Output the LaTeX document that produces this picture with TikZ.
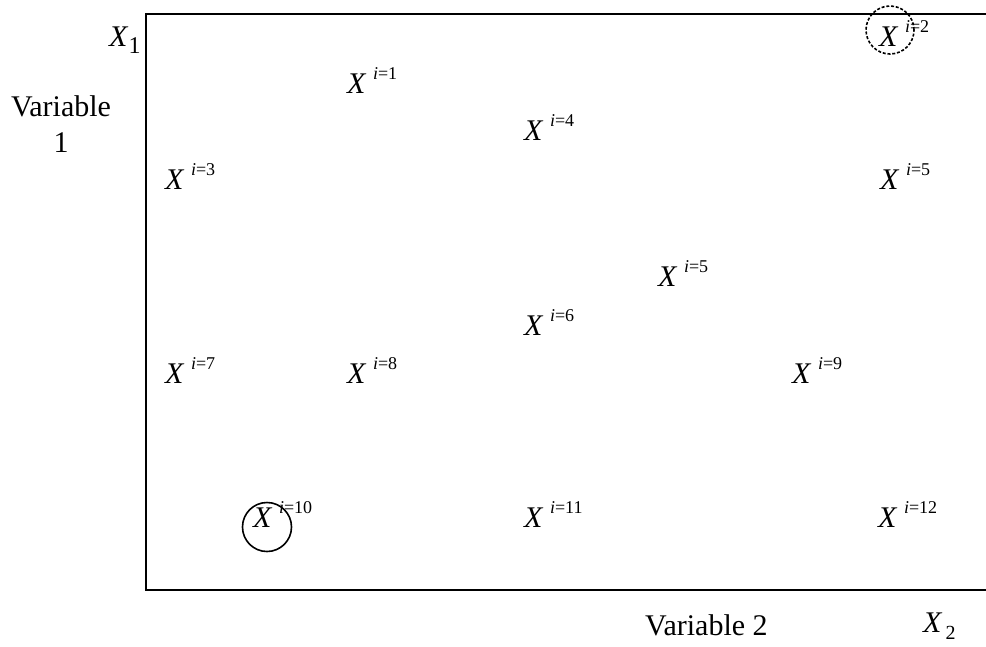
\documentclass[tikz,border=0pt]{standalone}
\usepackage{fontspec}
\setmainfont{Liberation Serif}
\newcommand{\xobs}[1]{{\fontsize{30}{30}\selectfont\itshape X}\hspace{7.5pt}\raisebox{14pt}{\fontsize{18}{18}\selectfont\textit{i}=#1}}
\tikzset{
  obs/.style={inner sep=0pt, anchor=base west},
  lab/.style={inner sep=0pt, anchor=base, font=\fontsize{30}{30}\selectfont},
  axis/.style={line width=2pt},
  mark circ/.style={draw, circle, minimum size=48pt, inner sep=0pt, line width=1.6pt}
}
\begin{document}
\begin{tikzpicture}[x=1pt,y=-1pt]
\useasboundingbox (0,0) rectangle (986,646);
% axes
\coordinate (tr) at (986,14);
\coordinate (tl) at (146,14);
\coordinate (bl) at (146,590);
\coordinate (br) at (986,590);
\draw[axis] (tr) -- (tl) -- (bl) -- (br);
% axis labels
\node[obs] (xone) at (109,46) {{\fontsize{30}{30}\selectfont\itshape X}\hspace{1pt}\raisebox{-7pt}{\fontsize{24}{24}\selectfont 1}};
\node[obs] (xtwo) at (923,632) {{\fontsize{30}{30}\selectfont\itshape X}\hspace{4pt}\raisebox{-7pt}{\fontsize{20}{20}\selectfont 2}};
\node[lab] (v1a) at (61,116) {Variable};
\node[lab] (v1b) at (61,152) {1};
\node[lab, anchor=base west] (v2) at (645,635) {Variable 2};
% observations
\node[obs] (o1) at (347,93) {\xobs{1}};
\node[obs] (o2) at (879,46) {\xobs{2}};
\node[obs] (o4) at (524,140) {\xobs{4}};
\node[obs] (o3) at (165,189) {\xobs{3}};
\node[obs] (o5a) at (880,189) {\xobs{5}};
\node[obs] (o5b) at (658,286) {\xobs{5}};
\node[obs] (o6) at (524,335) {\xobs{6}};
\node[obs] (o7) at (165,383) {\xobs{7}};
\node[obs] (o8) at (347,383) {\xobs{8}};
\node[obs] (o9) at (792,383) {\xobs{9}};
\node[obs] (o10) at (253,527) {\xobs{10}};
\node[obs] (o11) at (524,527) {\xobs{11}};
\node[obs] (o12) at (878,527) {\xobs{12}};
% circles
\node[mark circ, dash pattern=on 3pt off 1.8pt] (c2) at (890,30) {};
\node[mark circ, minimum size=49pt] (c10) at (267,527) {};
\end{tikzpicture}
\end{document}
